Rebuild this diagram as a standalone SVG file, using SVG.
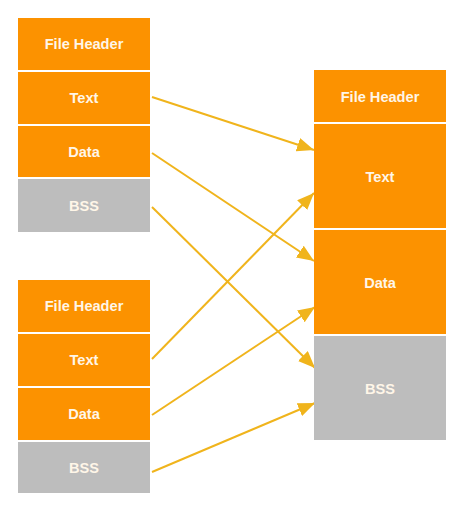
<svg xmlns="http://www.w3.org/2000/svg" width="466" height="510" viewBox="0 0 466 510">
<style>
.o{fill:#FC9200}
.g{fill:#BDBDBD}
.t{font-family:"Liberation Sans",Arial,sans-serif;font-weight:bold;font-size:14.6px;fill:#FFF6E8;text-anchor:middle;dominant-baseline:central}
.c{stroke:#F0B41C;stroke-width:2;fill:none;marker-end:url(#ah)}
</style>
<defs>
<marker id="ah" viewBox="0 0 17 14" refX="17" refY="7" markerWidth="17" markerHeight="14" markerUnits="userSpaceOnUse" orient="auto">
<path d="M0,0 L17,7 L0,14 Z" fill="#F0B41C"/>
</marker>
</defs>
<rect width="466" height="510" fill="#FFFFFF"/>
<g id="connectors">
<line class="c" x1="152" y1="97" x2="314" y2="150"/>
<line class="c" x1="152" y1="153" x2="314" y2="261"/>
<line class="c" x1="152" y1="207" x2="315" y2="368"/>
<line class="c" x1="152" y1="359" x2="314" y2="193"/>
<line class="c" x1="152" y1="415" x2="315" y2="307"/>
<line class="c" x1="152" y1="472" x2="315" y2="403"/>
</g>
<g id="obj1">
<g id="obj1-header"><rect class="o" x="18" y="18" width="132" height="52"/><text class="t" x="84" y="44">File Header</text></g>
<g id="obj1-text"><rect class="o" x="18" y="72" width="132" height="52"/><text class="t" x="84" y="98">Text</text></g>
<g id="obj1-data"><rect class="o" x="18" y="126" width="132" height="51"/><text class="t" x="84" y="152">Data</text></g>
<g id="obj1-bss"><rect class="g" x="18" y="179" width="132" height="53"/><text class="t" x="84" y="206">BSS</text></g>
</g>
<g id="obj2">
<g id="obj2-header"><rect class="o" x="18" y="280" width="132" height="52"/><text class="t" x="84" y="306">File Header</text></g>
<g id="obj2-text"><rect class="o" x="18" y="334" width="132" height="52"/><text class="t" x="84" y="360">Text</text></g>
<g id="obj2-data"><rect class="o" x="18" y="388" width="132" height="52"/><text class="t" x="84" y="414">Data</text></g>
<g id="obj2-bss"><rect class="g" x="18" y="442" width="132" height="51"/><text class="t" x="84" y="468">BSS</text></g>
</g>
<g id="out">
<g id="out-header"><rect class="o" x="314" y="70" width="132" height="52"/><text class="t" x="380" y="97">File Header</text></g>
<g id="out-text"><rect class="o" x="314" y="124" width="132" height="104"/><text class="t" x="380" y="177">Text</text></g>
<g id="out-data"><rect class="o" x="314" y="230" width="132" height="104"/><text class="t" x="380" y="283">Data</text></g>
<g id="out-bss"><rect class="g" x="314" y="336" width="132" height="104"/><text class="t" x="380" y="389">BSS</text></g>
</g>
</svg>
